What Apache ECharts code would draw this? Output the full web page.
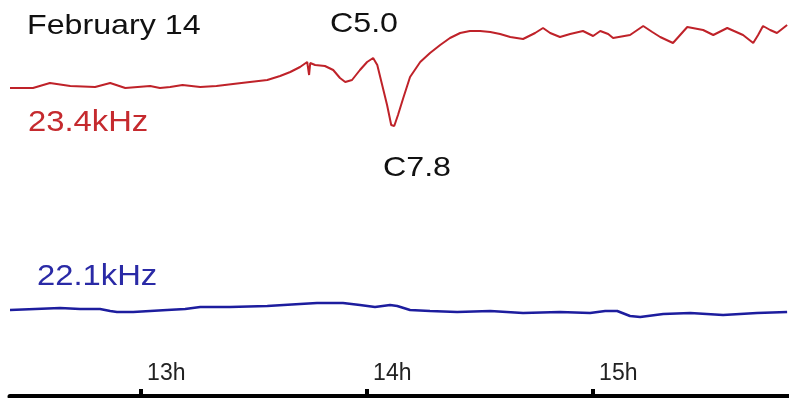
<!DOCTYPE html>
<html>
<head>
<meta charset="utf-8">
<script src="https://cdn.jsdelivr.net/npm/echarts@6/dist/echarts.min.js"></script>
<style>
  html, body { margin: 0; padding: 0; background: #ffffff; }
  #chart { width: 789px; height: 398px; }
</style>
</head>
<body>
<div id="chart"></div>
<script>
// Time is in minutes after 12:00 UT; amplitude is in arbitrary units.
const hourTicks = [60, 120, 180];
const hourLabels = ['13h', '14h', '15h'];

// 23.4 kHz signal
const t234 = [25.2, 31.3, 35.8, 41.2, 47.8, 51.8, 55.8, 62.4, 65.0, 67.7, 71.0, 75.7, 80.0, 84.4, 88.9, 93.5, 96.9, 99.6,
  102.2, 104.1, 104.6, 104.9, 106.2, 108.8, 111.0, 112.8, 114.2, 116.0, 118.1, 120.0, 121.6, 122.7,
  124.0, 125.3, 126.4, 127.2, 128.2, 129.6, 131.4, 134.1, 136.7, 139.4, 142.0, 144.7, 147.3, 150.0,
  152.7, 155.3, 158.0, 161.4, 164.6, 166.7, 168.6, 171.2, 173.9, 177.3, 180.0, 181.9, 184.0, 185.3,
  189.8, 193.3, 195.7, 197.8, 201.2, 203.1, 205.0, 209.2, 211.9, 215.6, 219.8, 222.5, 223.8, 225.1,
  227.0, 228.8, 231.5];
const a234 = [31.0, 31.0, 31.5, 31.2, 31.1, 31.5, 31.0, 31.2, 31.0, 31.1, 31.3, 31.1, 31.2, 31.4, 31.6, 31.8, 32.2, 32.6,
  33.1, 33.6, 32.3, 33.5, 33.3, 33.2, 32.8, 32.0, 31.6, 31.8, 32.8, 33.6, 34.0, 33.3,
  31.3, 29.3, 27.3, 27.2, 28.3, 30.0, 32.1, 33.6, 34.5, 35.3, 36.0, 36.5, 36.7, 36.7,
  36.6, 36.4, 36.1, 35.9, 36.5, 37.0, 36.5, 36.1, 36.4, 36.7, 36.2, 36.7, 36.4, 36.0,
  36.3, 37.2, 36.6, 36.1, 35.5, 36.3, 37.1, 36.8, 36.3, 37.0, 36.3, 35.5, 36.3, 37.2,
  36.8, 36.5, 37.3];

// 22.1 kHz signal
const t221 = [25.2, 31.9, 38.5, 43.8, 49.1, 51.8, 53.6, 57.9, 62.4, 66.9, 71.7, 75.7, 83.6, 93.5, 102.2,
  106.7, 113.6, 118.1, 122.1, 126.1, 128.0, 131.4, 136.7, 143.9, 152.7, 161.4, 171.2, 179.2, 183.2,
  186.4, 189.8, 192.5, 198.6, 205.8, 214.5, 223.5, 231.5];
const a221 = [8.8, 8.9, 9.0, 8.9, 8.9, 8.7, 8.6, 8.6, 8.7, 8.8, 8.9, 9.1, 9.1, 9.2, 9.4,
  9.5, 9.5, 9.3, 9.1, 9.3, 9.2, 8.8, 8.7, 8.6, 8.7, 8.5, 8.6, 8.5, 8.7,
  8.7, 8.2, 8.1, 8.4, 8.5, 8.3, 8.5, 8.6];

const pairs = (ts, vs) => ts.map((t, i) => [t, vs[i]]);

const RED = '#bf2229';
const BLUE = '#1d1d9e';
const FONT = '"Liberation Sans", Arial, sans-serif';

function caption(text, x, y, color, size, sx) {
  return {
    type: 'text', x: x, y: y, scaleX: sx, silent: true,
    style: { text: text, x: 0, y: 0, fill: color, font: size + 'px ' + FONT,
      textAlign: 'left', textVerticalAlign: 'middle' }
  };
}

const chart = echarts.init(document.getElementById('chart'), null, { renderer: 'canvas' });
chart.setOption({
  animation: false,
  backgroundColor: '#ffffff',
  grid: { left: 10, right: 0, top: 0, bottom: 2, containLabel: false },
  xAxis: {
    type: 'value', min: 25.2, max: 232.0,
    splitLine: { show: false },
    axisLine: { show: true, onZero: false, lineStyle: { color: '#000', width: 5 } },
    axisTick: { show: true, inside: true, length: 7, customValues: hourTicks,
      lineStyle: { color: '#000', width: 4 } },
    axisLabel: { show: true, inside: true, margin: 11, customValues: hourTicks,
      align: 'left', padding: [0, 0, 0, 6],
      color: '#222', fontFamily: FONT, fontSize: 23,
      formatter: v => hourLabels[hourTicks.indexOf(v)] }
  },
  yAxis: {
    type: 'value', min: 0.2, max: 39.8, show: false,
    splitLine: { show: false }
  },
  series: [
    { name: '23.4kHz', type: 'line', data: pairs(t234, a234), showSymbol: false,
      lineStyle: { color: RED, width: 2 }, z: 3 },
    { name: '22.1kHz', type: 'line', data: pairs(t221, a221), showSymbol: false,
      lineStyle: { color: BLUE, width: 2.5 }, z: 3 }
  ],
  graphic: [
    caption('February 14', 27, 26, '#111', 28, 1.15),
    caption('C5.0', 330, 24, '#111', 28, 1.15),
    caption('C7.8', 383, 168, '#111', 28, 1.15),
    caption('23.4kHz', 28, 123, '#c52a2e', 29, 1.13),
    caption('22.1kHz', 37, 277, '#2a2aa6', 29, 1.13)
  ]
});
</script>
</body>
</html>
